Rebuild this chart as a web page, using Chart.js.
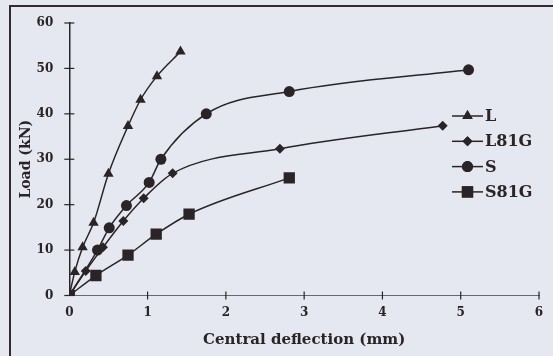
<!DOCTYPE html>
<html>
<head>
<meta charset="utf-8">
<script src="https://cdn.jsdelivr.net/npm/chart.js@4"></script>
<style>
  html, body { margin: 0; padding: 0; background: #e5e8f1; }
  #wrap { position: relative; width: 553px; height: 356px; }
  #frame { position: absolute; left: 9px; top: 5px; right: 0; bottom: 0;
           border-top: 2px solid #332a2b; border-left: 2px solid #332a2b; pointer-events: none; }
</style>
</head>
<body>
<div id="wrap">
  <canvas id="chart" width="553" height="356"></canvas>
  <div id="frame"></div>
</div>
<script>
const seriesNames = ['L', 'L81G', 'S', 'S81G'];

const lDefl  = [0, 0.07, 0.17, 0.31, 0.50, 0.75, 0.91, 1.12, 1.42];
const lLoad  = [0, 5.2, 10.6, 16.0, 26.8, 37.3, 43.1, 48.3, 53.7];

const l81gDefl = [0, 0.21, 0.43, 0.69, 0.95, 1.32, 2.69, 4.77];
const l81gLoad = [0, 5.4, 10.6, 16.4, 21.4, 26.9, 32.3, 37.4];

const sDefl  = [0, 0.36, 0.51, 0.73, 1.02, 1.17, 1.75, 2.81, 5.10];
const sLoad  = [0, 10.0, 14.9, 19.8, 24.9, 30.0, 40.0, 44.9, 49.7];

const s81gDefl = [0, 0.34, 0.75, 1.11, 1.53, 2.81];
const s81gLoad = [0, 4.4, 8.9, 13.5, 17.9, 25.9];

const ink = '#2a2426';
const serif = '"DejaVu Serif", "Liberation Serif", serif';

function pts(xs, ys) { return xs.map((x, i) => ({ x: x, y: ys[i] })); }

const markers = [
  { style: 'triangle', r: 6 },
  { style: 'rectRot', r: 5 },
  { style: 'circle', r: 5.5 },
  { style: 'rect', r: 8 },
];

const allData = [pts(lDefl, lLoad), pts(l81gDefl, l81gLoad), pts(sDefl, sLoad), pts(s81gDefl, s81gLoad)];

const datasets = seriesNames.map((name, i) => ({
  label: name,
  data: allData[i],
  borderColor: ink,
  backgroundColor: ink,
  borderWidth: 1.5,
  pointStyle: markers[i].style,
  pointRadius: markers[i].r,
  pointBorderWidth: 0,
  cubicInterpolationMode: 'monotone',
  fill: false,
}));

// ticks crossing the axis lines
const crossTicks = {
  id: 'crossTicks',
  afterDraw(chart) {
    const c = chart.ctx, x = chart.scales.x, y = chart.scales.y;
    c.save();
    c.strokeStyle = ink;
    c.lineWidth = 1.2;
    y.ticks.forEach((t, i) => {
      const py = y.getPixelForTick(i);
      c.beginPath(); c.moveTo(x.left - 5, py); c.lineTo(x.left + 5, py); c.stroke();
    });
    x.ticks.forEach((t, i) => {
      if (i === 0) return;
      const px = x.getPixelForTick(i);
      c.beginPath(); c.moveTo(px, y.bottom - 4); c.lineTo(px, y.bottom + 4); c.stroke();
    });
    c.restore();
  }
};

// legend drawn inside the plot on the right
const sideLegend = {
  id: 'sideLegend',
  afterDraw(chart) {
    const c = chart.ctx;
    const x0 = 452, x1 = 483, top = 116, step = 25.3;
    c.save();
    c.font = 'bold 16px ' + serif;
    c.textBaseline = 'middle';
    c.fillStyle = ink;
    c.strokeStyle = ink;
    chart.data.datasets.forEach((ds, i) => {
      const yy = top + i * step;
      c.lineWidth = 1.5;
      c.beginPath(); c.moveTo(x0, yy); c.lineTo(x1, yy); c.stroke();
      Chart.helpers.drawPoint(c, { pointStyle: ds.pointStyle, radius: ds.pointRadius, borderWidth: 0 }, (x0 + x1) / 2, yy);
      c.fill();
      c.fillText(ds.label, x1 + 2, yy + 1);
    });
    c.restore();
  }
};

new Chart(document.getElementById('chart'), {
  type: 'line',
  data: { datasets: datasets },
  options: {
    responsive: false,
    animation: false,
    layout: { padding: { left: 0, top: 23, right: 14, bottom: 0 } },
    plugins: { legend: { display: false }, tooltip: { enabled: false } },
    scales: {
      x: {
        type: 'linear',
        min: 0, max: 6,
        ticks: { stepSize: 1, color: ink, font: { family: serif, size: 12, weight: 'bold' }, padding: 5 },
        grid: { drawOnChartArea: false, drawTicks: true, tickLength: 5, color: 'rgba(0,0,0,0)' },
        border: { color: '#6b6670', width: 1, dash: [2, 1] },
        title: { display: true, text: 'Central deflection (mm)', color: ink,
                 font: { family: serif, size: 15, weight: 'bold' }, padding: { top: 2, bottom: 7 } },
        afterFit(s) { s.height = 60.5; },
      },
      y: {
        min: 0, max: 60,
        ticks: { stepSize: 10, color: ink, font: { family: serif, size: 12, weight: 'bold' }, padding: 11 },
        grid: { drawOnChartArea: false, drawTicks: true, tickLength: 5, color: 'rgba(0,0,0,0)' },
        border: { color: ink, width: 1.5 },
        title: { display: true, text: 'Load (kN)', color: ink,
                 font: { family: serif, size: 14, weight: 'bold' }, padding: { top: 18, bottom: 0 } },
        afterFit(s) { s.width = 69.3; },
      },
    },
  },
  plugins: [crossTicks, sideLegend],
});
</script>
</body>
</html>
